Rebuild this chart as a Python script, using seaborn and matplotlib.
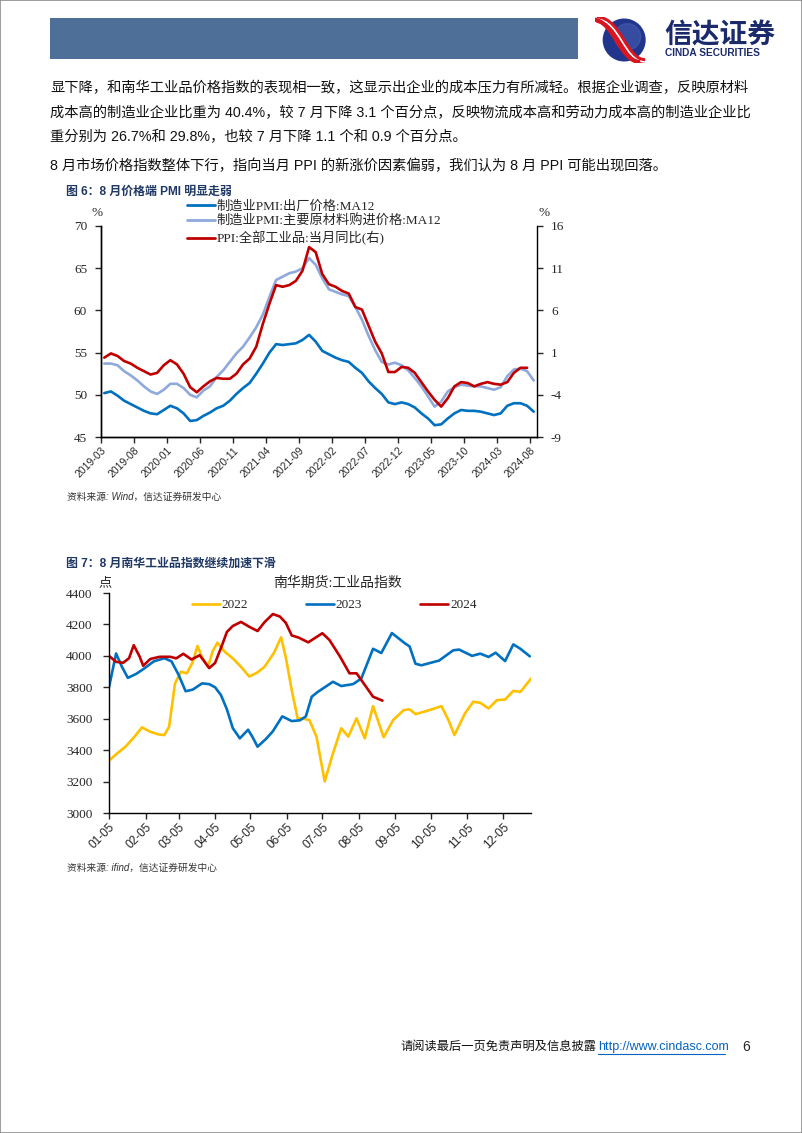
import numpy as np
import pandas as pd
import matplotlib
matplotlib.use('Agg')
import matplotlib.pyplot as plt
import seaborn as sns
from matplotlib.lines import Line2D
from matplotlib.patches import Rectangle, Circle, PathPatch
from matplotlib.path import Path

# ---------------- 图6 数据 (月度, 2019-03 ~ 2024-08)
months = pd.date_range('2019-03-01', '2024-08-01', freq='MS').strftime('%Y-%m')

# 制造业PMI:出厂价格:MA12
pmi_out_ma12 = [50.2, 50.4, 49.9, 49.3, 48.9, 48.5, 48.1, 47.8, 47.7, 48.2,
                48.7, 48.4, 47.8, 46.9, 47.0, 47.5, 47.9, 48.4, 48.7, 49.3,
                50.1, 50.8, 51.4, 52.5, 53.7, 55.0, 56.0, 55.9, 56.0, 56.1,
                56.5, 57.1, 56.3, 55.2, 54.8, 54.4, 54.1, 53.9, 53.2, 52.6,
                51.6, 50.8, 50.1, 49.1, 48.9, 49.1, 48.9, 48.5, 47.8, 47.2,
                46.4, 46.5, 47.2, 47.8, 48.2, 48.1, 48.1, 48.0, 47.8, 47.6,
                47.8, 48.7, 49.0, 49.0, 48.7, 48.0]

# 制造业PMI:主要原材料购进价格:MA12
pmi_in_ma12 = [53.7, 53.7, 53.5, 52.8, 52.3, 51.7, 51.0, 50.4, 50.1, 50.6,
               51.3, 51.3, 50.8, 50.0, 49.7, 50.5, 51.0, 52.1, 52.9, 53.9,
               54.9, 55.7, 56.8, 58.0, 59.5, 61.6, 63.6, 64.0, 64.4, 64.6,
               65.0, 66.2, 65.4, 63.8, 62.5, 62.2, 61.9, 61.7, 60.4, 58.9,
               57.0, 55.3, 53.9, 53.6, 53.8, 53.5, 52.9, 52.0, 51.0, 49.8,
               48.6, 49.2, 50.4, 50.9, 51.2, 51.1, 51.0, 51.0, 50.8, 50.6,
               50.9, 52.2, 53.0, 53.1, 52.8, 51.7]

# PPI:全部工业品:当月同比 (至2024-07)
ppi_yoy = [0.4, 0.9, 0.6, 0.0, -0.3, -0.8, -1.2, -1.6, -1.4, -0.5,
           0.1, -0.4, -1.5, -3.1, -3.7, -3.0, -2.4, -2.0, -2.1, -2.1, -1.5, -0.4,
           0.3, 1.7, 4.4, 6.8, 9.0, 8.8, 9.0, 9.5, 10.7, 13.5, 12.9, 10.3,
           9.1, 8.8, 8.3, 8.0, 6.4, 6.1, 4.2, 2.3, 0.9, -1.3, -1.3, -0.7,
           -0.8, -1.4, -2.5, -3.6, -4.6, -5.4, -4.4, -3.0, -2.5, -2.6, -3.0, -2.7,
           -2.5, -2.7, -2.8, -2.5, -1.4, -0.8, -0.8]

# ---------------- 图7 数据 (南华工业品指数, 日序)
days_2022 = [5, 12, 19, 26, 33, 40, 47, 52, 56, 61, 66, 71, 76, 80, 84, 89, 93, 97,
             103, 110, 117, 124, 131, 137, 145, 151, 155, 160, 165, 170, 175, 181,
             188, 195, 202, 208, 215, 222, 229, 238, 246, 255, 260, 265, 277, 287,
             293, 298, 307, 314, 320, 327, 334, 341, 348, 354, 363]
nh_2022 = [3333, 3380, 3422, 3480, 3545, 3517, 3500, 3496, 3550, 3825, 3899, 3889,
           3960, 4063, 3990, 3931, 4030, 4084, 4027, 3984, 3930, 3868, 3895, 3931,
           4020, 4118, 3990, 3783, 3603, 3600, 3591, 3486, 3201, 3380, 3539, 3486,
           3602, 3475, 3680, 3482, 3591, 3655, 3660, 3629, 3655, 3680, 3591, 3496,
           3634, 3708, 3701, 3665, 3718, 3722, 3777, 3771, 3855]

days_2023 = [5, 11, 16, 21, 28, 34, 43, 52, 58, 64, 70, 76, 84, 90, 95, 100, 105,
             110, 116, 123, 127, 131, 138, 144, 152, 160, 167, 172, 177, 182, 188,
             195, 202, 212, 219, 229, 236, 245, 256, 260, 265, 270, 285, 297, 302,
             313, 320, 327, 333, 341, 348, 354, 362]
nh_2023 = [3800, 4015, 3930, 3860, 3885, 3915, 3965, 3985, 3965, 3880, 3775, 3785,
           3825, 3820, 3800, 3750, 3660, 3540, 3475, 3530, 3480, 3422, 3470, 3520,
           3615, 3585, 3590, 3615, 3740, 3770, 3800, 3835, 3808, 3820, 3855, 4045,
           4018, 4145, 4080, 4060, 3950, 3940, 3970, 4035, 4040, 4000, 4014, 3993,
           4020, 3967, 4073, 4045, 3997]

days_2024 = [5, 11, 17, 22, 26, 31, 34, 40, 48, 57, 62, 68, 75, 82, 90, 95, 101,
             105, 110, 117, 124, 131, 137, 144, 150, 155, 160, 166, 174, 180, 186,
             192, 201, 209, 215, 223, 229, 237]
nh_2024 = [4000, 3962, 3956, 3985, 4068, 3995, 3937, 3980, 3994, 3994, 3984, 4013,
           3977, 4004, 3922, 3955, 4070, 4152, 4190, 4216, 4185, 4158, 4215, 4266,
           4250, 4210, 4130, 4116, 4086, 4115, 4144, 4101, 3995, 3889, 3889, 3804,
           3740, 3715]

tick_days = [5, 36, 64, 95, 125, 156, 186, 217, 248, 278, 309, 339]
tick_md = ['01-05', '02-05', '03-05', '04-05', '05-05', '06-05', '07-05',
           '08-05', '09-05', '10-05', '11-05', '12-05']

body_lines = [
    '显下降，和南华工业品价格指数的表现相一致，这显示出企业的成本压力有所减轻。根据企业调查，反映原材料',
    '成本高的制造业企业比重为 40.4%，较 7 月下降 3.1 个百分点，反映物流成本高和劳动力成本高的制造业企业比',
    '重分别为 26.7%和 29.8%，也较 7 月下降 1.1 个和 0.9 个百分点。',
    '8 月市场价格指数整体下行，指向当月 PPI 的新涨价因素偏弱，我们认为 8 月 PPI 可能出现回落。',
]

# ---------------- style
sns.set_style('white')
plt.rcParams['font.family'] = ['Liberation Sans', 'Noto Sans CJK SC']
plt.rcParams['axes.unicode_minus'] = False
SERIF = ['Liberation Serif', 'Noto Sans CJK SC']
SANS = ['Liberation Sans', 'Noto Sans CJK SC']
NAVY = '#1F3864'

W, H = 802, 1133
fig = plt.figure(figsize=(W / 100, H / 100), dpi=100)


def fx(px):
    return px / W


def fy(py):
    return 1 - py / H


# page frame + header
fig.add_artist(Rectangle((0, 0), 1, 1, transform=fig.transFigure, fill=False,
                         edgecolor='#8c8c8c', lw=1.2))
fig.add_artist(Rectangle((fx(50), fy(59)), fx(578) - fx(50), fy(18) - fy(59),
                         transform=fig.transFigure, color='#4E7098', lw=0))

# logo
axl = fig.add_axes([fx(594), fy(63), fx(56), 46 / H])
axl.set_xlim(-1.25, 1.25)
axl.set_ylim(-1.05, 1.05)
axl.set_aspect('equal')
axl.axis('off')
axl.add_patch(Circle((0.1, 0), 0.95, color='#22358C'))
axl.add_patch(Circle((0.25, 0.15), 0.6, color='#4A63B5', alpha=0.5))
for off, c, w in [(0.0, '#D9161F', 5.5), (0.0, 'white', 1.2), (-0.22, '#D9161F', 3.0)]:
    verts = [(-1.15 + off, 0.95), (-0.1 + off, 0.9), (0.1 + off, -1.0), (1.05 + off, -1.0)]
    path = Path(verts, [Path.MOVETO, Path.CURVE4, Path.CURVE4, Path.CURVE4])
    axl.add_patch(PathPatch(path, fill=False, edgecolor=c, lw=w, capstyle='butt'))
fig.text(fx(664), fy(36), '信达证券', fontsize=20, fontweight='bold', color='#1B2A6B',
         family=SANS, va='center', ha='left')
fig.text(fx(665), fy(53), 'CINDA SECURITIES', fontsize=7.3, fontweight='bold',
         color='#1B2A6B', family=SANS, va='center', ha='left')

# body text
for txt, yy in zip(body_lines, [88, 113, 137, 166]):
    fig.text(fx(50), fy(yy), txt, fontsize=10.3, family=SANS, va='center', ha='left',
             color='#111111')

# ---------------- 图6
fig.text(fx(66), fy(192), '图 6：8 月价格端 PMI 明显走弱', fontsize=8.6, fontweight='bold',
         color=NAVY, family=SANS, va='center')

ax1 = fig.add_axes([fx(101), fy(437), fx(537) - fx(101), fy(226) - fy(437)])
x1 = np.arange(len(months)) + 0.5
sns.lineplot(x=x1, y=pmi_out_ma12, ax=ax1, color='#0070C0', lw=1.9)
sns.lineplot(x=x1, y=pmi_in_ma12, ax=ax1, color='#8EA9DB', lw=1.9)
ax1r = ax1.twinx()
sns.lineplot(x=x1[:len(ppi_yoy)], y=ppi_yoy, ax=ax1r, color='#C00000', lw=1.9)

ax1.set_xlim(0, len(months))
ax1.set_ylim(45, 70)
ax1r.set_ylim(-9, 16)
ax1.set_yticks(np.arange(45, 71, 5))
ax1r.set_yticks(np.arange(-9, 17, 5))
ax1.set_xticks(np.arange(0, len(months), 5))
ax1.set_xticklabels(months[::5], rotation=45, ha='right', rotation_mode='anchor',
                    family=SANS, fontsize=7.5)
for a in (ax1, ax1r):
    a.set_xlabel('')
    a.set_ylabel('')
    a.spines['top'].set_visible(False)
    for s in a.spines.values():
        s.set_color('black')
        s.set_linewidth(1.0)
    a.grid(False)
ax1.spines['right'].set_visible(False)
ax1.tick_params(axis='y', direction='out', length=4, width=1, pad=6, labelsize=9.5,
                left=True)
ax1.tick_params(axis='x', direction='out', length=4, width=1, pad=2, bottom=True)
ax1r.tick_params(axis='y', direction='out', length=4, width=1, pad=6, labelsize=9.5,
                 right=True)
for lab in ax1.get_yticklabels() + ax1r.get_yticklabels():
    lab.set_family(SERIF)

leg_h = [Line2D([], [], color='#0070C0', lw=2),
         Line2D([], [], color='#8EA9DB', lw=2),
         Line2D([], [], color='#C00000', lw=2)]
leg_l = ['制造业PMI:出厂价格:MA12', '制造业PMI:主要原材料购进价格:MA12', 'PPI:全部工业品:当月同比(右)']
ax1r.legend(leg_h, leg_l, loc='upper left', bbox_to_anchor=(fx(187), fy(200)),
            bbox_transform=fig.transFigure, frameon=False, prop={'family': SERIF, 'size': 9.5},
            handlelength=2.1, handletextpad=0.15, labelspacing=0.2, borderpad=0,
            borderaxespad=0)
fig.text(fx(97), fy(213), '%', fontsize=9.5, family=SERIF, ha='center', va='center')
fig.text(fx(544), fy(213), '%', fontsize=9.5, family=SERIF, ha='center', va='center')
fig.text(fx(67), fy(497), '资料来源: Wind，信达证券研发中心', fontsize=7, style='italic',
         family=SANS, color='#333333', va='center')

# ---------------- 图7
fig.text(fx(66), fy(564), '图 7：8 月南华工业品指数继续加速下滑', fontsize=8.6,
         fontweight='bold', color=NAVY, family=SANS, va='center')

ax2 = fig.add_axes([fx(109), fy(813), fx(531) - fx(109), fy(593) - fy(813)])
sns.lineplot(x=days_2022, y=nh_2022, ax=ax2, color='#FFC000', lw=1.9, label='2022')
sns.lineplot(x=days_2023, y=nh_2023, ax=ax2, color='#0070C0', lw=1.9, label='2023')
sns.lineplot(x=days_2024, y=nh_2024, ax=ax2, color='#C00000', lw=1.9, label='2024')
ax2.set_xlim(5, 363)
ax2.set_ylim(3000, 4400)
ax2.set_yticks(np.arange(3000, 4401, 200))
ax2.set_xticks(tick_days)
ax2.set_xticklabels(tick_md, rotation=45, ha='right', rotation_mode='anchor',
                    family=SANS, fontsize=8.6)
ax2.set_xlabel('')
ax2.set_ylabel('')
ax2.grid(False)
for side in ('top', 'right'):
    ax2.spines[side].set_visible(False)
for side in ('left', 'bottom'):
    ax2.spines[side].set_color('black')
    ax2.spines[side].set_linewidth(1.0)
ax2.tick_params(axis='y', direction='out', length=4, width=1, pad=8, labelsize=9.5, left=True)
ax2.tick_params(axis='x', direction='out', length=4, width=1, pad=2, bottom=True)
for lab in ax2.get_yticklabels():
    lab.set_family(SERIF)
ax2.legend(loc='center left', bbox_to_anchor=(fx(192), fy(605)),
           bbox_transform=fig.transFigure, ncol=3, frameon=False,
           prop={'family': SERIF, 'size': 9.5}, handlelength=2.1, handletextpad=0.15,
           columnspacing=4.4, borderpad=0, borderaxespad=0)
fig.text(fx(337), fy(583), '南华期货:工业品指数', fontsize=10, family=SERIF,
         ha='center', va='center')
fig.text(fx(105), fy(583), '点', fontsize=9.5, family=SERIF, ha='center', va='center')
fig.text(fx(67), fy(868), '资料来源: ifind，信达证券研发中心', fontsize=7, style='italic',
         family=SANS, color='#333333', va='center')

# ---------------- footer
fig.text(fx(400), fy(1047), '请阅读最后一页免责声明及信息披露', fontsize=8.8, family=SANS,
         va='center', color='#111111')
fig.text(fx(598), fy(1047), 'http://www.cindasc.com', fontsize=9, family=SANS,
         va='center', color='#0563C1')
fig.add_artist(Line2D([fx(598), fx(725)], [fy(1054), fy(1054)], transform=fig.transFigure,
                      color='#0563C1', lw=0.8))
fig.text(fx(742), fy(1047), '6', fontsize=10, family=SANS, va='center')

fig.savefig('out.png', dpi=100)
